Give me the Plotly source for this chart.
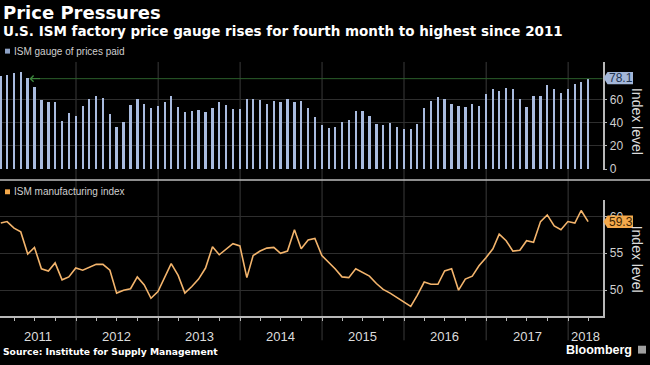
import pandas as pd
import plotly.graph_objects as go

W, H = 650, 365

# Monthly data, Jan 2011 - Mar 2018 (plotted at month end)
months = pd.date_range("2011-02-01", periods=87, freq="MS") - pd.Timedelta(days=1)

prices_paid = [
    80.4, 81.5, 83.2, 83.8, 78.9, 71.0, 59.7, 58.3, 58.0, 41.9, 48.9, 46.1,
    54.3, 60.5, 63.1, 61.7, 47.8, 36.5, 40.5, 55.2, 60.5, 56.0, 52.9, 54.6,
    57.7, 63.1, 54.0, 49.2, 50.6, 51.2, 49.2, 53.2, 57.7, 55.5, 52.3, 52.0,
    60.8, 60.5, 59.7, 56.6, 59.1, 58.0, 60.5, 57.7, 59.1, 53.2, 45.0, 37.9,
    35.7, 36.2, 40.5, 42.2, 49.8, 50.6, 45.6, 39.0, 38.2, 40.2, 36.2, 34.8,
    34.8, 38.8, 53.2, 58.9, 62.0, 60.5, 56.0, 54.6, 54.0, 56.0, 54.6, 65.1,
    69.0, 67.9, 69.9, 69.0, 60.5, 54.0, 62.8, 62.8, 73.0, 69.0, 65.9, 69.0,
    73.9, 75.3, 78.1,
]

ism_index = [
    59.1, 59.3, 58.4, 57.9, 54.9, 55.8, 52.9, 52.6, 53.7, 51.4, 51.8, 53.0,
    52.7, 53.1, 53.5, 53.5, 52.7, 49.6, 50.0, 50.2, 51.8, 50.7, 48.9, 49.8,
    51.8, 53.6, 52.0, 49.6, 50.5, 51.5, 53.0, 55.9, 54.8, 55.5, 56.3, 56.0,
    51.7, 54.7, 55.3, 55.7, 55.8, 55.0, 55.3, 58.2, 55.6, 56.8, 57.0, 54.7,
    53.8, 52.9, 51.8, 51.7, 52.9, 52.4, 51.9, 50.9, 50.1, 49.6, 49.0, 48.3,
    47.8, 49.3, 51.1, 50.8, 50.8, 52.6, 52.9, 50.0, 51.5, 51.9, 53.3, 54.4,
    55.6, 57.6, 56.7, 55.3, 55.4, 56.7, 56.5, 59.3, 60.2, 58.7, 58.2, 59.3,
    59.1, 60.8, 59.3,
]

year_labels = ["2011", "2012", "2013", "2014", "2015", "2016", "2017", "2018"]
year_label_pos = ["2011-07-15", "2012-07-01", "2013-07-02", "2014-07-02",
                  "2015-07-02", "2016-07-01", "2017-07-02", "2018-03-18"]
year_starts = ["2012-01-01", "2013-01-01", "2014-01-01", "2015-01-01",
               "2016-01-01", "2017-01-01", "2018-01-01"]
quarter_ticks = pd.date_range("2011-04-01", "2018-04-01", freq="QS")

top_ticks = [0, 20, 40, 60]
bot_ticks = [50, 55, 60]
last_price = prices_paid[-1]
last_ism = ism_index[-1]

XR = ["2011-01-27 12:00", "2018-06-04"]


def px(x):
    return x / W


def py(y):
    return (H - y) / H


fig = go.Figure()
fig.add_trace(go.Bar(
    x=months, y=prices_paid, xaxis="x", yaxis="y",
    marker=dict(color="#a9bbdf", line=dict(width=0)),
    width=11 * 86400000, hoverinfo="skip",
))
fig.add_trace(go.Scatter(
    x=months, y=ism_index, xaxis="x2", yaxis="y2", mode="lines",
    line=dict(color="#f3b46c", width=1.6), hoverinfo="skip",
))

axis_col = "#b8b8b8"
tick_font = dict(family="Liberation Sans, Arial, sans-serif", size=12, color="#d0d0d0")
xdom = [0, px(602.7)]

fig.update_layout(
    width=W, height=H, margin=dict(l=0, r=0, t=0, b=0),
    paper_bgcolor="black", plot_bgcolor="black", showlegend=False,
    bargap=0,
    xaxis=dict(domain=xdom, range=XR, type="date", anchor="y",
               showticklabels=False, showgrid=False, zeroline=False, showline=False,
               ticks=""),
    xaxis2=dict(domain=xdom, range=XR, type="date", anchor="y2",
                showticklabels=False, showgrid=False, zeroline=False,
                showline=True, linecolor=axis_col, linewidth=1.5,
                ticks="outside", tickvals=list(quarter_ticks), ticklen=3,
                tickcolor=axis_col, tickwidth=1),
    yaxis=dict(domain=[py(173), py(63)], range=[-0.85, 92.5], side="right",
               anchor="x", tickvals=top_ticks, ticks="outside", ticklen=3,
               tickcolor=axis_col, showline=True, linecolor=axis_col, linewidth=1.5,
               showgrid=True, gridcolor="#2e2e2e", gridwidth=1, zeroline=False,
               tickfont=tick_font),
    yaxis2=dict(domain=[py(321.7), py(203)], range=[46.44, 62.27], side="right",
                anchor="x2", tickvals=bot_ticks, ticks="outside", ticklen=3,
                tickcolor=axis_col, showline=True, linecolor=axis_col, linewidth=1.5,
                showgrid=True, gridcolor="#2e2e2e", gridwidth=1, zeroline=False,
                tickfont=tick_font),
)

shapes = []
# year separator lines
for d in year_starts:
    shapes.append(dict(type="line", xref="x", yref="paper", x0=d, x1=d,
                       y0=py(346), y1=py(63), line=dict(color="#3a3a3a", width=1),
                       layer="below"))
# panel separator
shapes.append(dict(type="line", xref="paper", yref="paper", x0=0, x1=1,
                   y0=py(183), y1=py(183), line=dict(color="#bdbdbd", width=1.5)))
# green reference line at latest price level
shapes.append(dict(type="line", xref="x", yref="y", x0="2011-06-08", x1=XR[1],
                   y0=last_price, y1=last_price, line=dict(color="#2a5e2a", width=1)))
# legend squares
shapes.append(dict(type="rect", xref="paper", yref="paper", x0=px(5), x1=px(10),
                   y0=py(54.5), y1=py(49.5), fillcolor="#8ea2c6", line=dict(width=0)))
shapes.append(dict(type="rect", xref="paper", yref="paper", x0=px(5), x1=px(10),
                   y0=py(197.5), y1=py(192.5), fillcolor="#f5a94a", line=dict(width=0)))


def badge(ymid, color):
    top, bot = ymid - 6.3, ymid + 6.3
    path = (f"M {px(603.5)},{py(ymid)} L {px(607.5)},{py(top)} L {px(633)},{py(top)} "
            f"L {px(633)},{py(bot)} L {px(607.5)},{py(bot)} Z")
    return dict(type="path", xref="paper", yref="paper", path=path,
                fillcolor=color, line=dict(width=0), layer="above")


shapes.append(badge(79.4, "#a3b6d8"))
shapes.append(badge(225.5, "#f4a94c"))
# Bloomberg icon
shapes.append(dict(type="rect", xref="paper", yref="paper", x0=px(638), x1=px(646),
                   y0=py(359.5), y1=py(351.5), fillcolor="#a0a0a0", line=dict(width=0)))
fig.update_layout(shapes=shapes)

ann = []
sans = "Liberation Sans, Arial, sans-serif"
bold = "DejaVu Sans, Verdana, sans-serif"
ann.append(dict(text="<b>Price Pressures</b>", x=px(1), y=py(13), xanchor="left",
                yanchor="middle", font=dict(family=bold, size=18, color="white")))
ann.append(dict(text="<b>U.S. ISM factory price gauge rises for fourth month to highest since 2011</b>",
                x=px(1), y=py(32), xanchor="left", yanchor="middle",
                font=dict(family=bold, size=13.5, color="white")))
ann.append(dict(text="ISM gauge of prices paid", x=px(12), y=py(52), xanchor="left",
                yanchor="middle", font=dict(family=sans, size=10, color="#cfcfcf")))
ann.append(dict(text="ISM manufacturing index", x=px(12), y=py(195), xanchor="left",
                yanchor="middle", font=dict(family=sans, size=10, color="#cfcfcf")))
ann.append(dict(text=f"{last_price:.1f}", x=px(620.5), y=py(79.4), xanchor="center",
                yanchor="middle", font=dict(family=sans, size=12, color="#1f3350")))
ann.append(dict(text=f"{last_ism:.1f}", x=px(620.5), y=py(225.5), xanchor="center",
                yanchor="middle", font=dict(family=sans, size=12, color="#3a2300")))
for yc in (123, 263):
    ann.append(dict(text="Index level", x=px(637), y=py(yc), xanchor="center",
                    yanchor="middle", textangle=90,
                    font=dict(family=sans, size=14, color="#dcdcdc")))
for lab, pos in zip(year_labels, year_label_pos):
    ann.append(dict(text=lab, x=pos, xref="x2", y=py(342.5), yanchor="middle",
                    xanchor="center", font=dict(family=sans, size=13, color="#dcdcdc")))
ann.append(dict(text="<b>Source: Institute for Supply Management</b>", x=px(1), y=py(357),
                xanchor="left", yanchor="middle",
                font=dict(family=bold, size=9.2, color="white")))
ann.append(dict(text="<b>Bloomberg</b>", x=px(634), y=py(355.5), xanchor="right",
                yanchor="middle", font=dict(family=sans, size=12.5, color="white")))
# arrow head at start of green line
ann.append(dict(text="", x="2011-06-08", y=last_price, xref="x", yref="y",
                ax=12, ay=0, showarrow=True, arrowhead=4, arrowsize=1.2,
                arrowwidth=1, arrowcolor="#3f8a3f"))
for a in ann:
    a.setdefault("xref", "paper")
    a.setdefault("yref", "paper")
    a.setdefault("showarrow", False)
fig.update_layout(annotations=ann)

fig.write_html("out.html", config={"displayModeBar": False},
               post_script="document.body.style.margin='0';")
